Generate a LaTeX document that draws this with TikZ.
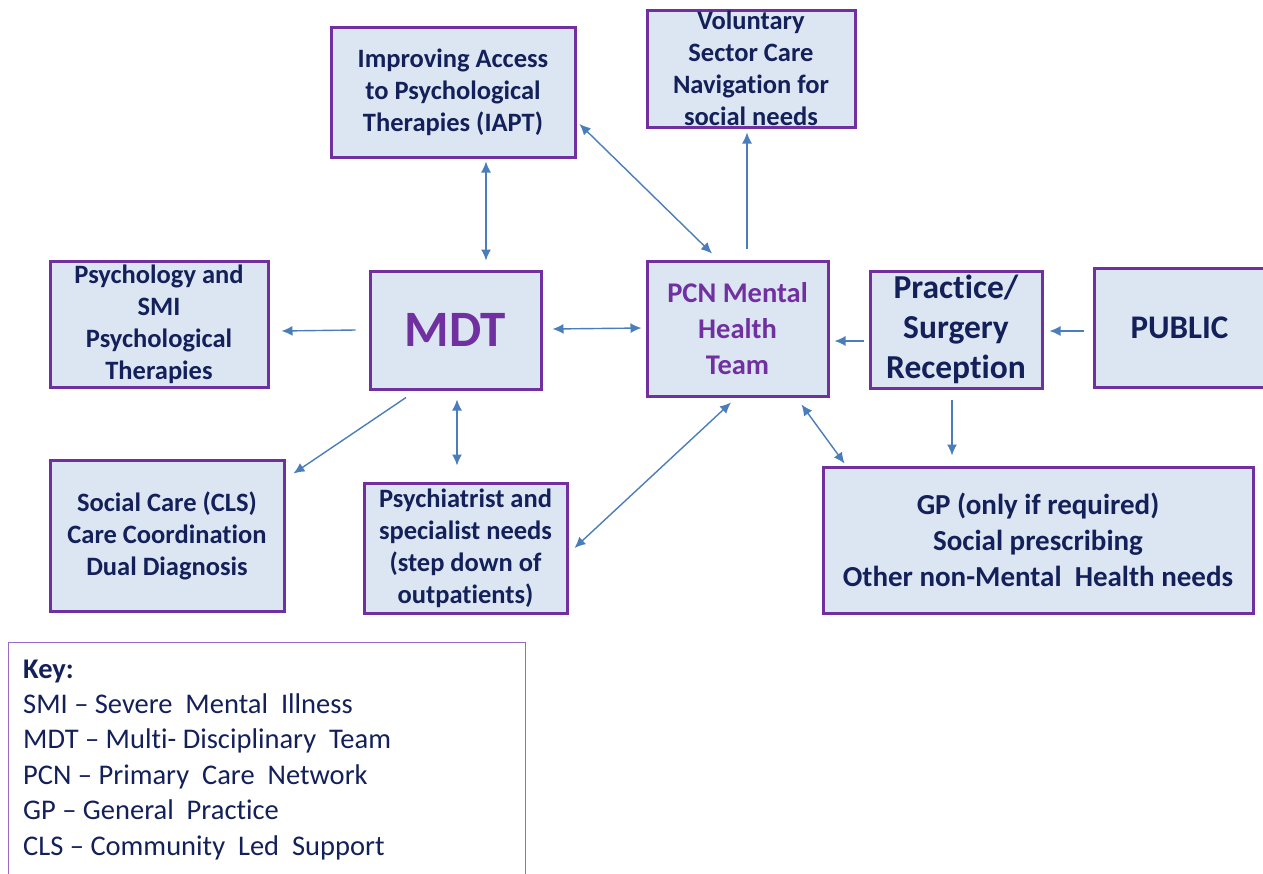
\documentclass[tikz,border=0pt]{standalone}
\usepackage{fontspec}
\setmainfont{Carlito}[Ligatures=NoCommon]
\usetikzlibrary{arrows.meta}
\definecolor{boxfill}{HTML}{DCE6F2}
\definecolor{boxline}{HTML}{7030A0}
\definecolor{navytext}{HTML}{14205A}
\definecolor{linkblue}{HTML}{4A7EBB}
\definecolor{keyline}{HTML}{9A6BC4}
\begin{document}
\begin{tikzpicture}[x=1pt,y=-1pt,
  box/.style={draw=boxline,fill=boxfill,line width=3pt,inner sep=0pt},
  boxtext/.style={text=navytext,align=center,inner sep=0pt,font=\bfseries\fontsize{26.5}{32}\selectfont},
  link/.style={draw=linkblue,line width=1.4pt,-{Latex[length=11pt,width=10pt]}},
  twoway/.style={link,{Latex[length=11pt,width=10pt]}-{Latex[length=11pt,width=10pt]}},
  keytext/.style={anchor=base west,inner sep=0pt,text=navytext,font=\fontsize{28.5}{32}\selectfont}]
\useasboundingbox (0,0) rectangle (1263,873);
\fill[white] (0,0) rectangle (1263,873);

% boxes
\node[box,minimum width=244pt,minimum height=130pt] (iapt) at (453,92) {};
\node[box,minimum width=208pt,minimum height=117pt] (vol) at (751,68.5) {};
\node[box,minimum width=218pt,minimum height=126pt] (psy) at (159,324) {};
\node[box,minimum width=171pt,minimum height=118pt] (mdt) at (455.5,330) {};
\node[box,minimum width=181pt,minimum height=135pt] (pcn) at (737.5,328.5) {};
\node[box,minimum width=172pt,minimum height=117pt] (prac) at (956,329.5) {};
\node[box,minimum width=171pt,minimum height=119pt] (pub) at (1179.5,327.5) {};
\node[box,minimum width=234pt,minimum height=151pt] (soc) at (167,535.5) {};
\node[box,minimum width=203pt,minimum height=130pt] (psych) at (465.5,548) {};
\node[box,minimum width=430pt,minimum height=146pt] (gp) at (1038,540) {};

% box labels
\node[boxtext] (iaptT) at (iapt) {Improving Access\\to Psychological\\Therapies (IAPT)};
\node[boxtext] (volT) at (vol) {Voluntary\\Sector Care\\Navigation for\\social needs};
\node[boxtext] (psyT) at (psy) {Psychology and\\SMI\\Psychological\\Therapies};
\node[boxtext,text=boxline,font=\bfseries\fontsize{51}{56}\selectfont] (mdtT) at (mdt) {MDT};
\node[boxtext,text=boxline,font=\bfseries\fontsize{28.5}{36}\selectfont] (pcnT) at (pcn) {PCN Mental\\Health\\Team};
\node[boxtext,font=\bfseries\fontsize{33.5}{40}\selectfont] (pracT) at (prac) {Practice/\\Surgery\\Reception};
\node[boxtext,font=\bfseries\fontsize{33}{40}\selectfont] (pubT) at (pub) {PUBLIC};
\node[boxtext] (socT) at (soc) {Social Care (CLS)\\Care Coordination\\Dual Diagnosis};
\node[boxtext] (psychT) at (psych) {Psychiatrist and\\specialist needs\\(step down of\\outpatients)};
\node[boxtext,font=\bfseries\fontsize{29}{36}\selectfont] (gpT) at (gp) {GP (only if required)\\Social prescribing\\Other non-Mental\ \ Health needs};

% connectors
\draw[twoway] ([xshift=33pt,yshift=-3pt]iapt.south) -- ([xshift=30.5pt,yshift=9pt]mdt.north);
\draw[twoway] ([xshift=3pt,yshift=-32pt]iapt.east) -- ([xshift=-25.5pt,yshift=6pt]pcn.north);
\draw[link] ([xshift=9.5pt,yshift=11pt]pcn.north) -- ([xshift=-4pt,yshift=-4pt]vol.south);
\draw[link] ([xshift=-13pt]mdt.west) -- ([xshift=12pt,yshift=-7pt]psy.east);
\draw[twoway] ([xshift=10pt,yshift=1pt]mdt.east) -- ([xshift=-4pt,yshift=0.5pt]pcn.west);
\draw[link] ([xshift=-5pt,yshift=-11.5pt]prac.west) -- ([xshift=5pt,yshift=-12.5pt]pcn.east);
\draw[link] ([xshift=-9pt,yshift=-3.5pt]pub.west) -- ([xshift=6pt,yshift=-1.5pt]prac.east);
\draw[link] ([xshift=-49.5pt,yshift=-7pt]mdt.south) -- ([xshift=8pt,yshift=-15pt]soc.north east);
\draw[twoway] ([xshift=1.5pt,yshift=-9pt]mdt.south) -- ([xshift=-8.5pt,yshift=16pt]psych.north);
\draw[twoway] ([xshift=-6.5pt,yshift=-5pt]pcn.south) -- ([xshift=6pt]psych.east);
\draw[twoway] ([xshift=-28pt,yshift=-7pt]pcn.south east) -- ([xshift=23pt,yshift=2pt]gp.north west);
\draw[link] ([xshift=-4pt,yshift=-10pt]prac.south) -- ([xshift=-86pt,yshift=10pt]gp.north);

% key
\node[draw=keyline,line width=1.2pt,minimum width=517pt,minimum height=240pt,anchor=north west,inner sep=0pt] (key) at (8,642) {};
\node[keytext,font=\bfseries\fontsize{28.5}{32}\selectfont] (key0) at (23,678) {Key:};
\node[keytext] (key1) at (23,713) {SMI – Severe\ \ Mental\ \ Illness};
\node[keytext] (key2) at (23,748.5) {MDT – Multi- Disciplinary\ \ Team};
\node[keytext] (key3) at (23,784) {PCN – Primary\ \ Care\ \ Network};
\node[keytext] (key4) at (23,819.5) {GP – General\ \ Practice};
\node[keytext] (key5) at (23,855) {CLS – Community\ \ Led\ \ Support};
\end{tikzpicture}
\end{document}
